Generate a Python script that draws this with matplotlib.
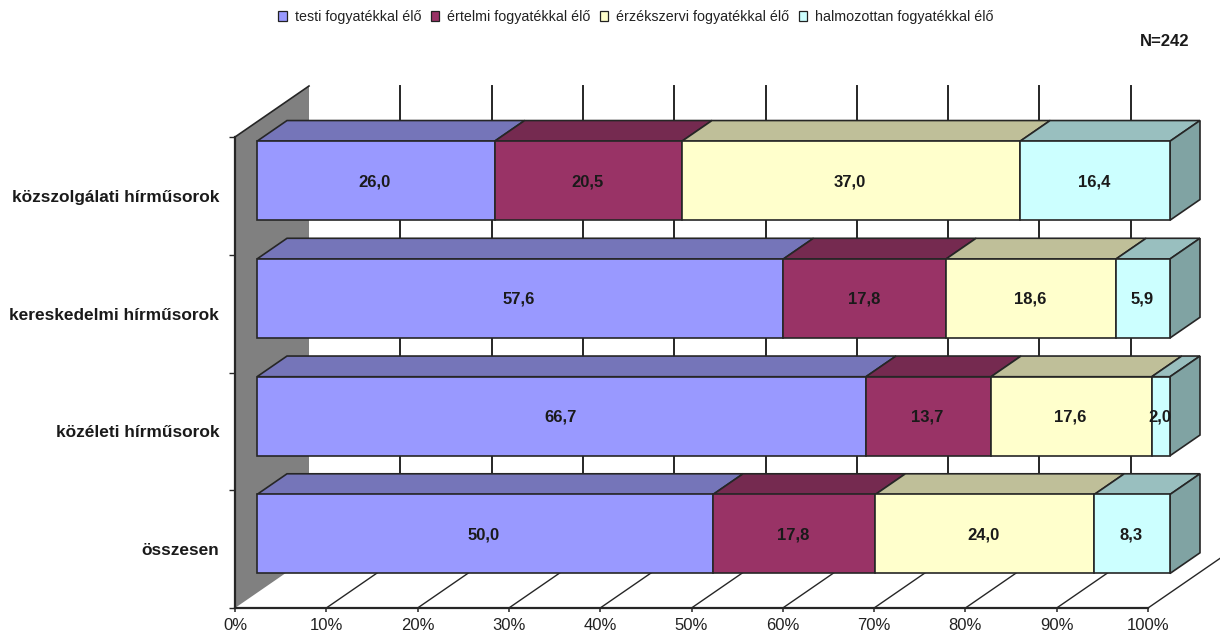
import matplotlib
matplotlib.use("Agg")
import matplotlib.pyplot as plt
from matplotlib.patches import Polygon, Patch

plt.rcParams['font.family'] = ['Liberation Sans', 'DejaVu Sans']

categories = ["közszolgálati hírműsorok", "kereskedelmi hírműsorok",
              "közéleti hírműsorok", "összesen"]
series_names = ["testi fogyatékkal élő", "értelmi fogyatékkal élő",
                "érzékszervi fogyatékkal élő", "halmozottan fogyatékkal élő"]
testi = [26.0, 57.6, 66.7, 50.0]
ertelmi = [20.5, 17.8, 13.7, 17.8]
erzek = [37.0, 18.6, 17.6, 24.0]
halmozott = [16.4, 5.9, 2.0, 8.3]
series = [testi, ertelmi, erzek, halmozott]
front_colors = ["#9999FF", "#993366", "#FFFFCC", "#CCFFFF"]
top_colors = ["#7575B9", "#752A50", "#BFBF99", "#99BFBF"]
side_color = "#80A3A3"
x_ticks = list(range(0, 101, 10))
x_labels = [f"{v}%" for v in x_ticks]

W, H = 1220, 635
fig = plt.figure(figsize=(W / 100, H / 100), dpi=100, facecolor="white")
# Axes: floor front edge and wall front edge (pixel layout of the reference)
L, R, T, B = 235, 1148, 137, 608
ax = fig.add_axes([L / W, (H - B) / H, (R - L) / W, (B - T) / H])
ax.set_xlim(0, 100)
ax.set_ylim(4, 0)
ax.patch.set_alpha(0)

DX = 74 / ((R - L) / 100)     # full depth in x data units
DY = 51 / ((B - T) / 4)       # full depth in y data units


def proj(x, y, d):
    return (x + DX * d, y - DY * d)


EDGE = "#262626"
LW = 1.2
# wall
wall = [proj(0, 0, 0), proj(0, 0, 1), proj(0, 4, 1), proj(0, 4, 0)]
ax.add_patch(Polygon(wall, closed=True, facecolor="#808080", edgecolor="none",
                     clip_on=False, zorder=1))
ax.plot(*zip(proj(0, 0, 0), proj(0, 0, 1)), color=EDGE, lw=LW, clip_on=False, zorder=2)
# grid on back wall and floor
for t in x_ticks[1:]:
    ax.plot(*zip(proj(t, 0, 1), proj(t, 4, 1)), color=EDGE, lw=1.4, clip_on=False, zorder=1.5)
    ax.plot(*zip(proj(t, 4, 0), proj(t, 4, 1)), color=EDGE, lw=1.0, clip_on=False, zorder=1.5)

# bars
D0, D1 = 22 / 74, 52 / 74
BAR_H = 79 / ((B - T) / 4)
for i, cat in enumerate(categories):
    vals = [s[i] for s in series]
    total = sum(vals)
    y0 = i + 0.5 - BAR_H / 2
    y1 = i + 0.5 + BAR_H / 2
    start = 0.0
    for j, v in enumerate(vals):
        end = start + v / total * 100
        top = [proj(start, y0, D0), proj(end, y0, D0), proj(end, y0, D1), proj(start, y0, D1)]
        ax.add_patch(Polygon(top, closed=True, facecolor=top_colors[j], edgecolor=EDGE,
                             lw=LW, clip_on=False, zorder=3))
        fr = [proj(start, y0, D0), proj(end, y0, D0), proj(end, y1, D0), proj(start, y1, D0)]
        ax.add_patch(Polygon(fr, closed=True, facecolor=front_colors[j], edgecolor=EDGE,
                             lw=LW, clip_on=False, zorder=4))
        cx, cy = proj((start + end) / 2, i + 0.5, D0)
        ax.annotate(f"{v:.1f}".replace(".", ","), (cx, cy), xytext=(-1, -1),
                    textcoords="offset pixels", ha="center", va="center",
                    fontsize=12, fontweight="bold", color="#1a1a1a", zorder=6,
                    annotation_clip=False)
        start = end
    side = [proj(100, y0, D0), proj(100, y0, D1), proj(100, y1, D1), proj(100, y1, D0)]
    ax.add_patch(Polygon(side, closed=True, facecolor=side_color, edgecolor=EDGE,
                         lw=LW, clip_on=False, zorder=3))

# axes furniture
for s in ("top", "right"):
    ax.spines[s].set_visible(False)
for s in ("left", "bottom"):
    ax.spines[s].set_color(EDGE)
    ax.spines[s].set_linewidth(1.6)
    ax.spines[s].set_zorder(2.5)
ax.set_xticks(x_ticks)
ax.set_xticklabels(x_labels, fontsize=12, color="#222222")
ax.tick_params(axis="x", length=3, width=1.1, color=EDGE, pad=4.5)
ax.set_yticks(range(5))
ax.set_yticklabels([])
ax.tick_params(axis="y", which="major", length=4, width=1.0, color=EDGE)
ax.set_yticks([i + 0.5 for i in range(4)], minor=True)
ax.set_yticklabels(categories, minor=True, fontsize=12.4, fontweight="bold", color="#1a1a1a")
ax.tick_params(axis="y", which="minor", length=0, pad=11.5)

# legend
handles = [Patch(facecolor=c, edgecolor="#222222", lw=0.9) for c in front_colors]
fig.legend(handles, series_names, loc="center", bbox_to_anchor=(636 / W, 1 - 17 / H),
           ncol=4, frameon=False, fontsize=10.3, handlelength=0.6, handleheight=0.7,
           handletextpad=0.55, columnspacing=0.65, labelcolor="#222222")

fig.text(1189 / W, 1 - 41 / H, "N=242", ha="right", va="center", fontsize=12,
         fontweight="bold", color="#1a1a1a")

fig.savefig("out.png", dpi=100)
